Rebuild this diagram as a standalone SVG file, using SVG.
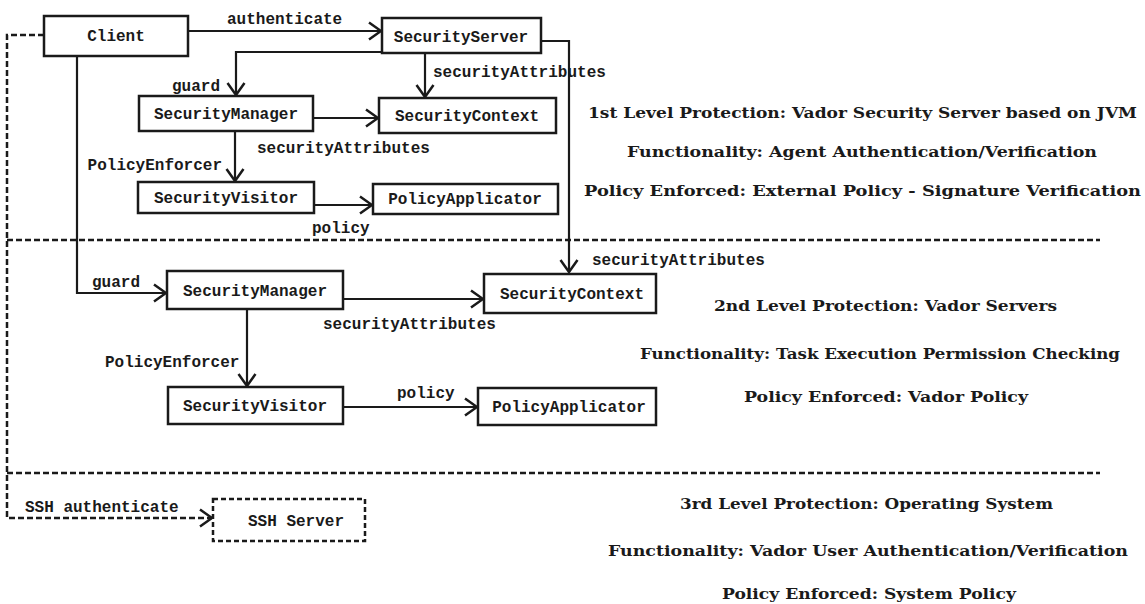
<svg xmlns="http://www.w3.org/2000/svg" width="1145" height="604" viewBox="0 0 1145 604">
  <style>
    .box { fill: #fff; stroke: #1a1a1a; stroke-width: 2.5; }
    .dbox { fill: #fff; stroke: #1a1a1a; stroke-width: 2.5; stroke-dasharray: 5 3; }
    .lbl { font-family: "Liberation Mono", "Courier New", monospace; font-size: 16px; font-weight: bold; fill: #1a1a1a; }
    .nt { text-anchor: middle; }
    .edge { fill: none; stroke: #1a1a1a; stroke-width: 2.2; }
    .dash { fill: none; stroke: #1a1a1a; stroke-width: 2.5; stroke-dasharray: 6 3; }
    .note { font-family: "DejaVu Serif", "Liberation Serif", serif; font-size: 15px; font-weight: bold; fill: #1a1a1a; }
  </style>
  <defs>
    <marker id="open" viewBox="0 0 14 20" refX="13" refY="10" markerWidth="14" markerHeight="20" markerUnits="userSpaceOnUse" orient="auto">
      <path d="M1,1.5 L13,10 L1,18.5" fill="none" stroke="#1a1a1a" stroke-width="2.5"/>
    </marker>
  </defs>

  <rect width="1145" height="604" fill="#fff"/>

  <!-- protection level separators -->
  <g id="separators">
    <line class="dash" x1="7" y1="240" x2="1100" y2="240"/>
    <line class="dash" x1="7" y1="473" x2="1100" y2="473"/>
  </g>

  <!-- connectors -->
  <g id="connectors">
    <line class="edge" x1="188" y1="31" x2="381" y2="31" marker-end="url(#open)"/>
    <polyline class="edge" points="382,52 236,52 236,95" marker-end="url(#open)"/>
    <line class="edge" x1="425" y1="53" x2="425" y2="97" marker-end="url(#open)"/>
    <polyline class="edge" points="541,41 569,41 569,272" marker-end="url(#open)"/>
    <line class="edge" x1="313" y1="118" x2="378" y2="118" marker-end="url(#open)"/>
    <line class="edge" x1="235" y1="131" x2="235" y2="181" marker-end="url(#open)"/>
    <line class="edge" x1="314" y1="205" x2="372" y2="205" marker-end="url(#open)"/>
    <polyline class="edge" points="77,56 77,293 166,293" marker-end="url(#open)"/>
    <line class="edge" x1="343" y1="299" x2="483" y2="299" marker-end="url(#open)"/>
    <line class="edge" x1="247" y1="309" x2="247" y2="386" marker-end="url(#open)"/>
    <line class="edge" x1="343" y1="407" x2="477" y2="407" marker-end="url(#open)"/>
    <polyline class="dash" points="44,35 7,35 7,518 212,518" marker-end="url(#open)"/>
  </g>

  <!-- connector labels -->
  <g id="edge-labels">
    <text class="lbl" x="227" y="24">authenticate</text>
    <text class="lbl" x="220" y="91" text-anchor="end">guard</text>
    <text class="lbl" x="433" y="77">securityAttributes</text>
    <text class="lbl" x="257" y="153">securityAttributes</text>
    <text class="lbl" x="222" y="170" text-anchor="end">PolicyEnforcer</text>
    <text class="lbl" x="312" y="233">policy</text>
    <text class="lbl" x="592" y="265">securityAttributes</text>
    <text class="lbl" x="92" y="287">guard</text>
    <text class="lbl" x="323" y="329">securityAttributes</text>
    <text class="lbl" x="105" y="367">PolicyEnforcer</text>
    <text class="lbl" x="397" y="398">policy</text>
    <text class="lbl" x="25" y="512">SSH authenticate</text>
  </g>

  <!-- nodes -->
  <g id="client"><rect class="box" x="44" y="16" width="144" height="40"/><text class="lbl nt" x="116" y="41">Client</text></g>
  <g id="security-server"><rect class="box" x="382" y="18" width="159" height="35"/><text class="lbl nt" x="461" y="42">SecurityServer</text></g>
  <g id="security-manager-1"><rect class="box" x="139" y="96" width="174" height="35"/><text class="lbl nt" x="226" y="119">SecurityManager</text></g>
  <g id="security-context-1"><rect class="box" x="379" y="98" width="177" height="35"/><text class="lbl nt" x="467" y="121">SecurityContext</text></g>
  <g id="security-visitor-1"><rect class="box" x="138" y="182" width="176" height="31"/><text class="lbl nt" x="226" y="203">SecurityVisitor</text></g>
  <g id="policy-applicator-1"><rect class="box" x="373" y="184" width="185" height="30"/><text class="lbl nt" x="465" y="204">PolicyApplicator</text></g>
  <g id="security-manager-2"><rect class="box" x="167" y="271" width="176" height="38"/><text class="lbl nt" x="255" y="296">SecurityManager</text></g>
  <g id="security-context-2"><rect class="box" x="484" y="274" width="172" height="39"/><text class="lbl nt" x="572" y="299">SecurityContext</text></g>
  <g id="security-visitor-2"><rect class="box" x="168" y="387" width="175" height="37"/><text class="lbl nt" x="255" y="411">SecurityVisitor</text></g>
  <g id="policy-applicator-2"><rect class="box" x="478" y="388" width="178" height="37"/><text class="lbl nt" x="569" y="412">PolicyApplicator</text></g>
  <g id="ssh-server"><rect class="dbox" x="213" y="499" width="152" height="42"/><text class="lbl nt" x="296" y="526">SSH Server</text></g>

  <!-- protection level descriptions -->
  <g id="level-notes">
    <text class="note" x="588" y="118" textLength="549" lengthAdjust="spacingAndGlyphs">1st Level Protection: Vador Security Server based on JVM</text>
    <text class="note" x="627" y="157" textLength="470" lengthAdjust="spacingAndGlyphs">Functionality: Agent Authentication/Verification</text>
    <text class="note" x="584" y="196" textLength="557" lengthAdjust="spacingAndGlyphs">Policy Enforced: External Policy - Signature Verification</text>
    <text class="note" x="714" y="311" textLength="343" lengthAdjust="spacingAndGlyphs">2nd Level Protection: Vador Servers</text>
    <text class="note" x="640" y="359" textLength="480" lengthAdjust="spacingAndGlyphs">Functionality: Task Execution Permission Checking</text>
    <text class="note" x="744" y="402" textLength="284" lengthAdjust="spacingAndGlyphs">Policy Enforced: Vador Policy</text>
    <text class="note" x="680" y="509" textLength="373" lengthAdjust="spacingAndGlyphs">3rd Level Protection: Operating System</text>
    <text class="note" x="608" y="556" textLength="520" lengthAdjust="spacingAndGlyphs">Functionality: Vador User Authentication/Verification</text>
    <text class="note" x="722" y="599" textLength="294" lengthAdjust="spacingAndGlyphs">Policy Enforced: System Policy</text>
  </g>
</svg>
